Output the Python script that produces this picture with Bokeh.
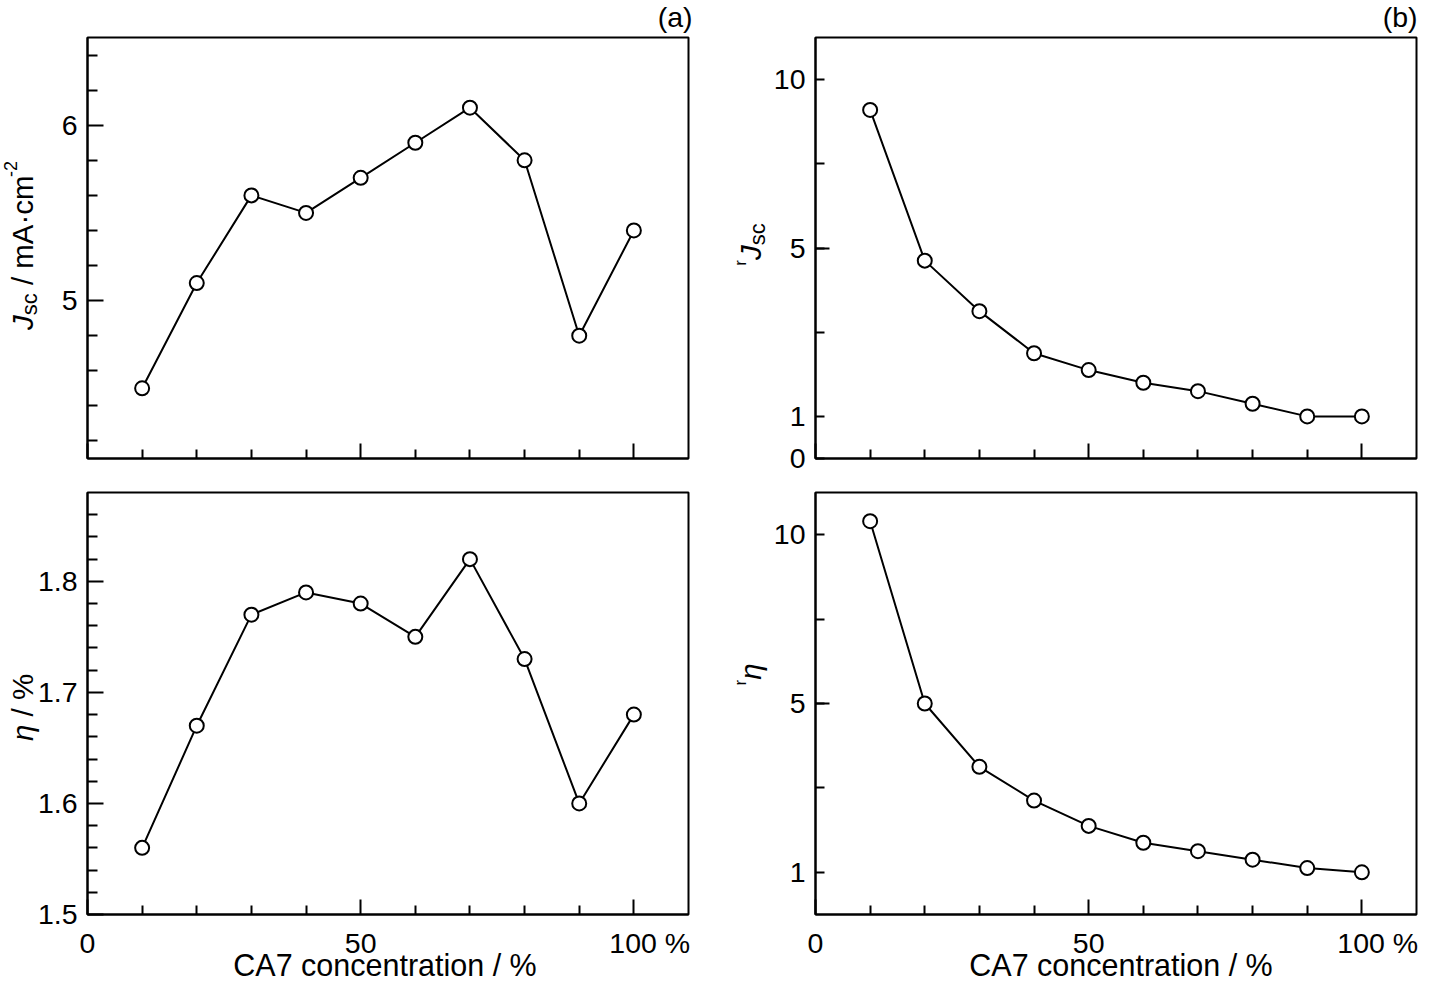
import math
from bokeh.plotting import figure
from bokeh.models import (FixedTicker, Label, Range1d, ColumnDataSource,
                          CustomJSTransform, GridBox)
from bokeh.transform import transform
from bokeh.embed import file_html
from bokeh.resources import INLINE

# ---------------- data ----------------
concentration = [10, 20, 30, 40, 50, 60, 70, 80, 90, 100]
jsc = [4.50, 5.10, 5.60, 5.50, 5.70, 5.90, 6.10, 5.80, 4.80, 5.40]
eta = [1.56, 1.67, 1.77, 1.79, 1.78, 1.75, 1.82, 1.73, 1.60, 1.68]
r_jsc = [9.1, 4.7, 3.5, 2.5, 2.1, 1.8, 1.6, 1.3, 1.0, 1.0]
r_eta = [10.4, 5.0, 3.5, 2.7, 2.1, 1.7, 1.5, 1.3, 1.1, 1.0]

# ---------------- ticks ----------------
x_major = [0, 50, 100]
x_minor = [10, 20, 30, 40, 60, 70, 80, 90]
x_labels = {0: "0", 50: "50", 100: "\u00a0\u00a0\u00a0\u00a0100 %"}
jsc_major = [5, 6]
jsc_minor = [4.2, 4.4, 4.6, 4.8, 5.2, 5.4, 5.6, 5.8, 6.2, 6.4]
eta_major = [1.5, 1.6, 1.7, 1.8]
eta_minor = [1.52, 1.54, 1.56, 1.58, 1.62, 1.64, 1.66, 1.68,
             1.72, 1.74, 1.76, 1.78, 1.82, 1.84, 1.86]
# ratio axes: position space (values above 5 compressed)
r_top_major = [0, 1, 3, 5, 7, 9]
r_bot_major = [1, 3, 5, 7, 9]
r_long = [5]
r_labels = {0: "0", 1: "1", 3: "", 5: "5", 7: "", 9: "10"}

FONT = "Liberation Sans"
TICK_FS = "28.5px"
X_MAX = 110

pos_tf = CustomJSTransform(
    func="return x <= 5 ? x : 5 + (x - 5) * 0.8;",
    v_func="const out = new Float64Array(xs.length); for (let i = 0; i < xs.length; i++) { const v = xs[i]; out[i] = v <= 5 ? v : 5 + (v - 5) * 0.8; } return out;",
)

src = ColumnDataSource(dict(c=concentration, jsc=jsc, eta=eta, rj=r_jsc, re=r_eta))

# ---------------- geometry ----------------
CANVAS_W, CANVAS_H = 1420, 984
LW, RW = 700, 720
L_LEFT, L_RIGHT = 87, 12
R_LEFT, R_RIGHT = 115, 4
FW = LW - L_LEFT - L_RIGHT
T_TOP, T_BOT = 37, 17
B_TOP, B_BOT = 17, 70
TH = 475
BH = CANVAS_H - TH
TF_TOP, TF_BOT = T_TOP, TH - T_BOT
BF_TOP, BF_BOT = TH + B_TOP, CANVAS_H - B_BOT
LF_LEFT, RF_LEFT = L_LEFT, LW + R_LEFT
BASELINE_FIX = 0.37   # label anchor correction (fraction of font size)

# Arial / Liberation Sans advance widths (per 1000 em)
CW = {'J': 500, 's': 500, 'c': 500, ' ': 278, '/': 278, 'm': 833, 'A': 667,
      '·': 278, '-': 333, '2': 556, 'r': 333, 'η': 556, '%': 889}


def tw(text, size):
    return sum(CW.get(ch, 556) for ch in text) * size / 1000.0


def make_fig(width, height, left, right, top, bottom, yr, show_x_labels):
    p = figure(width=width, height=height, x_range=Range1d(0, X_MAX), y_range=Range1d(*yr),
               output_backend="svg", toolbar_location=None,
               min_border_left=left, min_border_right=right,
               min_border_top=top, min_border_bottom=bottom)
    p.grid.visible = False
    p.outline_line_color = "black"
    p.outline_line_width = 2
    p.outline_line_alpha = 1.0
    p.background_fill_color = "white"
    p.border_fill_color = "white"
    for ax in (p.xaxis[0], p.yaxis[0]):
        ax.axis_line_width = 2
        ax.axis_line_color = "black"
        ax.major_tick_line_width = 2
        ax.minor_tick_line_width = 2
        ax.major_tick_line_color = "black"
        ax.minor_tick_line_color = "black"
        ax.major_tick_out = 0
        ax.minor_tick_out = 0
        ax.major_label_text_font = FONT
        ax.major_label_text_font_size = TICK_FS
        ax.major_label_text_color = "black"
    xa = p.xaxis[0]
    xa.ticker = FixedTicker(ticks=x_major, minor_ticks=x_minor)
    xa.major_label_overrides = x_labels
    xa.major_tick_in = 15
    xa.minor_tick_in = 9
    if show_x_labels:
        xa.major_label_standoff = 12
    else:
        xa.major_label_text_font_size = "1px"
        xa.major_label_text_color = None
        xa.major_label_standoff = 0
    p.yaxis[0].major_label_standoff = 10
    return p


def add_series(p, yfield):
    p.line(x="c", y=yfield, source=src, line_color="black", line_width=2)
    p.scatter(x="c", y=yfield, source=src, marker="circle", size=14,
              fill_color="white", line_color="black", line_width=2)


# ---- (a) top: Jsc ----
tl = make_fig(LW, TH, L_LEFT, L_RIGHT, T_TOP, T_BOT, (4.1, 6.5), False)
tl.yaxis[0].ticker = FixedTicker(ticks=jsc_major, minor_ticks=jsc_minor)
tl.yaxis[0].major_tick_in = 16
tl.yaxis[0].minor_tick_in = 10
add_series(tl, "jsc")

# ---- (a) bottom: eta ----
bl = make_fig(LW, BH, L_LEFT, L_RIGHT, B_TOP, B_BOT, (1.5, 1.88), True)
bl.yaxis[0].ticker = FixedTicker(ticks=eta_major, minor_ticks=eta_minor)
bl.yaxis[0].major_tick_in = 16
bl.yaxis[0].minor_tick_in = 10
add_series(bl, "eta")

# ---- (b) top: rJsc ----
tr = make_fig(RW, TH, R_LEFT, R_RIGHT, T_TOP, T_BOT, (0, 10), False)
tr.yaxis[0].ticker = FixedTicker(ticks=r_top_major, minor_ticks=r_long)
tr.yaxis[0].major_label_overrides = r_labels
tr.yaxis[0].major_tick_in = 9
tr.yaxis[0].minor_tick_in = 14
add_series(tr, transform("rj", pos_tf))

# ---- (b) bottom: r eta ----
br = make_fig(RW, BH, R_LEFT, R_RIGHT, B_TOP, B_BOT, (0, 10), True)
br.yaxis[0].ticker = FixedTicker(ticks=r_bot_major, minor_ticks=r_long)
br.yaxis[0].major_label_overrides = r_labels
br.yaxis[0].major_tick_in = 9
br.yaxis[0].minor_tick_in = 14
add_series(br, transform("re", pos_tf))

# ---- transparent overlay for titles / rich axis labels (pixel coordinates, y down) ----
ov = figure(width=CANVAS_W, height=CANVAS_H, x_range=Range1d(0, CANVAS_W),
            y_range=Range1d(CANVAS_H, 0), output_backend="svg", toolbar_location=None,
            min_border=0, x_axis_location=None, y_axis_location=None)
ov.grid.visible = False
ov.outline_line_color = None
ov.background_fill_color = None
ov.border_fill_color = None


def olabel(x, y, text, size, align="left", angle=0.0, style="normal"):
    fix = BASELINE_FIX * size
    if angle:
        x -= fix
    else:
        y -= fix
    ov.add_layout(Label(x=x, y=y, text=text, angle=angle, text_font=FONT,
                        text_font_size=f"{size}px", text_font_style=style,
                        text_align=align, text_baseline="alphabetic", text_color="black"))


def rich_ylabel(pieces, x_base, y_center):
    """Vertical text reading upward; shift>0 -> subscript (towards the right)."""
    total = sum(tw(t, s) for t, s, _, _ in pieces)
    y = y_center + total / 2.0
    for text, size, style, shift in pieces:
        stripped = text.lstrip(" ")
        lead = tw(text[:len(text) - len(stripped)], size)
        if stripped.strip():
            olabel(x_base + shift, y - lead, stripped, size, angle=math.pi / 2, style=style)
        y -= tw(text, size)


rich_ylabel([("J", 29.5, "italic", 0), ("sc", 22, "normal", 4),
             (" / mA·cm", 29.5, "normal", 0), ("-2", 18, "normal", -16)],
            LF_LEFT - 54, TF_BOT - 213)
rich_ylabel([("η", 29.5, "italic", 0), (" / %", 29.5, "normal", 0)],
            LF_LEFT - 54, BF_BOT - 207)
rich_ylabel([("r", 17, "normal", -15), ("J", 29.5, "italic", 0), ("sc", 22, "normal", 4)],
            RF_LEFT - 54, TF_BOT - 214)
rich_ylabel([("r", 17, "normal", -15), ("η", 29.5, "italic", 0)],
            RF_LEFT - 54, BF_BOT - 240)

olabel(LF_LEFT + FW + 4, TF_TOP - 10, "(a)", 28.5, align="right")
olabel(RF_LEFT + FW + 1, TF_TOP - 10, "(b)", 28.5, align="right")
olabel(LF_LEFT + FW / 2 - 3, BF_BOT + 62, "CA7 concentration / %", 30.5, align="center")
olabel(RF_LEFT + FW / 2 + 5, BF_BOT + 62, "CA7 concentration / %", 30.5, align="center")

# panels sit in the inner tracks 1..2; the overlay spans 0..3 so that its
# frame is not aligned with the panels' frames.
grid = GridBox(children=[(tl, 1, 1), (tr, 1, 2), (bl, 2, 1), (br, 2, 2),
                         (ov, 0, 0, 4, 4)])
open("out.html", "w").write(file_html(grid, INLINE))
